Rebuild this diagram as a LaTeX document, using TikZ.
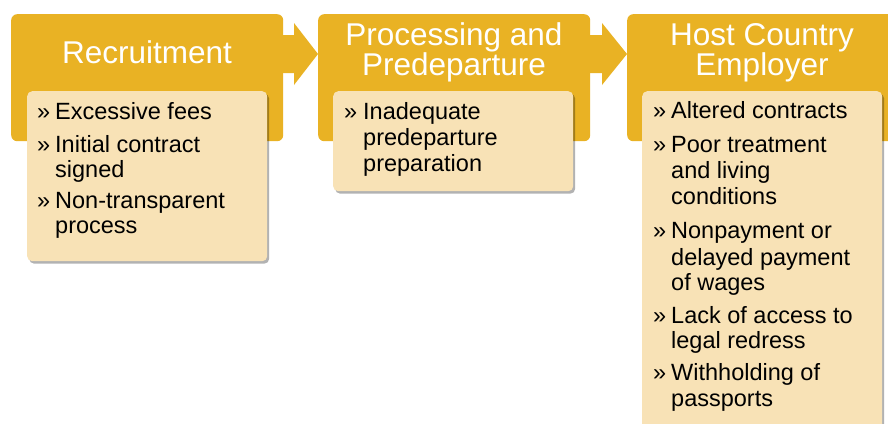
\documentclass[tikz,border=0pt]{standalone}
\usepackage{fontspec}
\setmainfont{Liberation Sans}
\usetikzlibrary{shadows}
\definecolor{gold}{RGB}{233,178,36}
\definecolor{cream}{RGB}{248,226,182}
\tikzset{
  goldbox/.style={draw=none, fill=gold, rounded corners=6pt, inner sep=0pt, minimum width=272pt, minimum height=127pt, anchor=north west},
  creambox/.style={draw=none, fill=cream, rounded corners=5pt, inner sep=0pt, minimum width=240pt, anchor=north west,
    drop shadow={shadow xshift=2pt, shadow yshift=-2.5pt, fill=black, opacity=0.3}},
  flowarrow/.style={fill=gold, draw=none},
  head/.style={anchor=base, inner sep=0pt, text=white, font=\fontsize{31.5}{30}\selectfont},
  bul/.style={anchor=base west, inner sep=0pt, text=black, font=\fontsize{23.5}{26}\selectfont},
  bodytxt/.style={anchor=base west, inner sep=0pt, text=black, font=\fontsize{23.5}{26}\selectfont}
}
\begin{document}
\begin{tikzpicture}[x=1pt, y=-1pt]
\useasboundingbox (0,0) rectangle (888,423);
\clip (0,0) rectangle (888,423);
\fill[white] (0,0) rectangle (888,423);
% gold stage boxes
\node[goldbox] (b1) at (11,14) {};
\node[goldbox] (b2) at (318,14) {};
\node[goldbox] (b3) at (627,14) {};
% arrows
\fill[flowarrow] (280,35) -- (294,35) -- (294,23) -- (318,54) -- (294,85) -- (294,73) -- (280,73) -- cycle;
\fill[flowarrow] (587,35) -- (602,35) -- (602,23) -- (627,54) -- (602,85) -- (602,73) -- (587,73) -- cycle;
% headers
\node[head] (h1) at (147,63) {Recruitment};
\node[head] (h2a) at (454,45) {Processing and};
\node[head] (h2b) at (454,75) {Predeparture};
\node[head] (h3a) at (762,45) {Host Country};
\node[head] (h3b) at (762,75) {Employer};
% cream boxes
\node[creambox, minimum height=170pt] (c1) at (27,91) {};
\node[creambox, minimum height=100pt] (c2) at (333,91) {};
\node[creambox, minimum height=400pt] (c3) at (642,91) {};
% box 1 text
\node[bul] (p1a) at (37,119) {»};
\node[bodytxt] (t1a) at (55,119) {Excessive fees};
\node[bul] (p1b) at (37,152) {»};
\node[bodytxt] (t1b) at (55,152) {Initial contract};
\node[bodytxt] (t1c) at (55,177) {signed};
\node[bul] (p1d) at (37,208) {»};
\node[bodytxt] (t1d) at (55,208) {Non-transparent};
\node[bodytxt] (t1e) at (55,233) {process};
% box 2 text
\node[bul] (p2a) at (344,119) {»};
\node[bodytxt] (t2a) at (363,119) {Inadequate};
\node[bodytxt] (t2b) at (363,145) {predeparture};
\node[bodytxt] (t2c) at (363,171) {preparation};
% box 3 text
\node[bul] (p3a) at (653,118) {»};
\node[bodytxt] (t3a) at (671,118) {Altered contracts};
\node[bul] (p3b) at (653,152) {»};
\node[bodytxt] (t3b) at (671,152) {Poor treatment};
\node[bodytxt] (t3c) at (671,178) {and living};
\node[bodytxt] (t3d) at (671,204) {conditions};
\node[bul] (p3e) at (653,238) {»};
\node[bodytxt] (t3e) at (671,238) {Nonpayment or};
\node[bodytxt] (t3f) at (671,265) {delayed payment};
\node[bodytxt] (t3g) at (671,290) {of wages};
\node[bul] (p3h) at (653,323) {»};
\node[bodytxt] (t3h) at (671,323) {Lack of access to};
\node[bodytxt] (t3i) at (671,348) {legal redress};
\node[bul] (p3j) at (653,380) {»};
\node[bodytxt] (t3j) at (671,380) {Withholding of};
\node[bodytxt] (t3k) at (671,406) {passports};
\end{tikzpicture}
\end{document}
